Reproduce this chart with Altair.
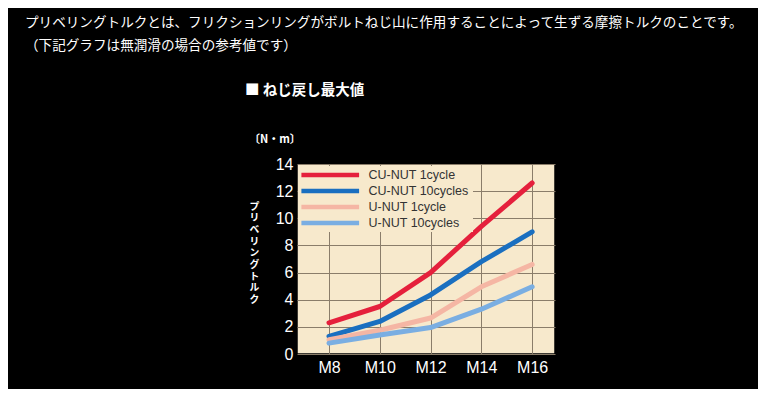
import json
import altair as alt
import pandas as pd

sizes = ["M8", "M10", "M12", "M14", "M16"]
series = ["CU-NUT  1cycle", "CU-NUT  10cycles", "U-NUT  1cycle", "U-NUT  10cycles"]
cu_1cycle = [2.3, 3.5, 6.0, 9.4, 12.6]
cu_10cycles = [1.3, 2.4, 4.35, 6.8, 9.0]
u_1cycle = [1.05, 1.75, 2.65, 4.95, 6.6]
u_10cycles = [0.8, 1.4, 1.95, 3.3, 4.95]
colors = ["#e5203c", "#1a6fc0", "#f5b6a4", "#7aaee2"]
y_ticks = [0, 2, 4, 6, 8, 10, 12, 14]

intro1 = "プリベリングトルクとは、フリクションリングがボルトねじ山に作用することによって生ずる摩擦トルクのことです。"
intro2 = "（下記グラフは無潤滑の場合の参考値です）"
heading = "■ ねじ戻し最大値"
unit = "〔N・m〕"
y_title = "プリベリングトルク"

rows = []
for name, vals in zip(series, [cu_1cycle, cu_10cycles, u_1cycle, u_10cycles]):
    for i, v in enumerate(vals):
        rows.append({"idx": i, "size": sizes[i], "series": name, "torque": v})
df = pd.DataFrame(rows)

label_expr = json.dumps(sizes) + "[datum.value]"

lines = alt.Chart(df).mark_line(strokeWidth=5, strokeCap="round", strokeJoin="round").encode(
    x=alt.X("idx:Q", scale=alt.Scale(domain=[-0.63, 4.45], nice=False, zero=False),
            axis=alt.Axis(values=list(range(len(sizes))), labelExpr=label_expr, title=None,
                          labelColor="white", labelFontSize=16, labelFont="Liberation Sans",
                          labelPadding=5, ticks=False, domain=False, grid=True,
                          gridColor="#8a7d6a", gridWidth=1)),
    y=alt.Y("torque:Q", scale=alt.Scale(domain=[0, 14], nice=False),
            axis=alt.Axis(values=y_ticks, title=list(y_title), titleAngle=0,
                          titleAlign="center", titleBaseline="top", titleX=-43, titleY=37,
                          titleLineHeight=11.7, titleFontSize=9.8, titleColor="white",
                          titleFontWeight="bold", titleFont="Noto Sans CJK JP",
                          labelColor="white", labelFontSize=16, labelFont="Liberation Sans",
                          labelPadding=4, ticks=False, domain=False, grid=True,
                          gridColor="#8a7d6a", gridWidth=1)),
    color=alt.Color("series:N", scale=alt.Scale(domain=series, range=colors),
                    legend=alt.Legend(title=None, orient="none", legendX=1, legendY=2,
                                      symbolType="M-8,0H8", symbolStrokeWidth=4.5,
                                      symbolSize=52, symbolOffset=25,
                                      labelFontSize=12.5, clipHeight=15.8,
                                      labelFont="Liberation Sans", labelColor="#333",
                                      labelOffset=32,
                                      fillColor="#f7e9cc", padding=1, rowPadding=0)),
    order=alt.Order("idx:Q"),
)

def note(text, x, y, size, weight="normal", font="Noto Sans CJK JP"):
    return alt.Chart(pd.DataFrame({"t": [text]})).mark_text(
        align="left", baseline="middle", color="white", fontSize=size,
        fontWeight=weight, font=font,
    ).encode(text="t:N", x=alt.value(x), y=alt.value(y))

chart = alt.layer(
    lines,
    note(intro1, -272, -141, 13.6),
    note(intro2, -272, -118, 13.6),
    note(heading, -52, -73, 14.5, "bold"),
    note(unit, -48, -24, 11, "bold"),
).properties(
    width=258, height=190, background="black",
    autosize=alt.AutoSizeParams(type="none"),
    padding={"left": 289, "top": 156, "right": 203, "bottom": 35},
).configure_view(fill="#f7e9cc", stroke="black", strokeWidth=1.5)

chart.save("out.html", embed_options={"renderer": "svg", "actions": False})
